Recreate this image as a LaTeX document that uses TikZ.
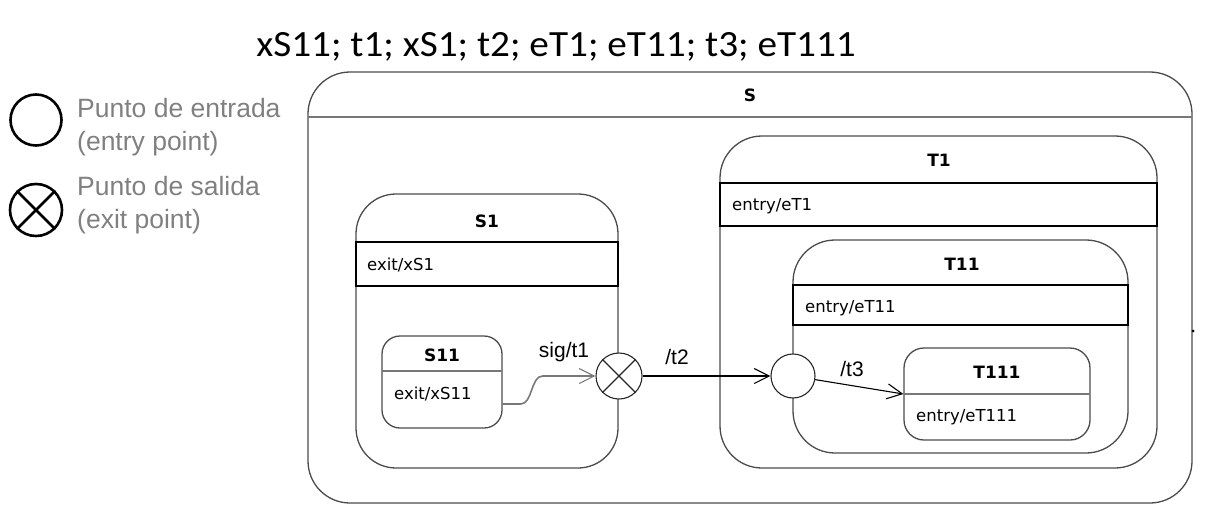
\documentclass[tikz,border=0pt]{standalone}
\usepackage{fontspec}
\setmainfont{DejaVu Sans}
\newfontfamily\titlefont[FakeStretch=1.06]{Carlito}
\newfontfamily\legfont{Liberation Sans}
\newfontfamily\arialfont{Liberation Sans}
\usetikzlibrary{arrows.meta}
\definecolor{leggray}{RGB}{128,128,128}
\definecolor{edgec}{RGB}{75,75,75}
\definecolor{sepc}{RGB}{120,120,120}
\tikzset{
  statebox/.style={draw=edgec, line width=1.3pt, rounded corners=#1, inner sep=0pt},
  comp/.style={draw=black, line width=1.1pt, inner sep=0pt},
  sepline/.style={draw=sepc, line width=1.4pt},
  sname/.style={font=\fontsize{17}{18}\selectfont\bfseries, inner sep=0pt},
  stext/.style={font=\fontsize{16.5}{18}\selectfont, anchor=west, inner sep=0pt},
  tlabel/.style={font=\arialfont\fontsize{21}{22}\selectfont, inner sep=0pt},
  legtext/.style={font=\legfont\fontsize{26.5}{33}\selectfont, text=leggray, anchor=west, inner sep=0pt, align=left},
  pseudo/.style={circle, draw=black!85, fill=white, line width=1.1pt, inner sep=0pt},
  arr/.style={-{Straight Barb[length=15pt,width=15pt,line width=1.1pt]}, line width=1.1pt},
}
\begin{document}
\begin{tikzpicture}[x=1pt,y=-1pt]
\useasboundingbox (0,0) rectangle (1222,511);

% title
\node[font=\titlefont\fontsize{37}{40}\selectfont, inner sep=0pt] (title) at (556,47) {xS11; t1; xS1; t2; eT1; eT11; t3; eT111};

% legend
\node[circle, draw=black, line width=2.6pt, minimum size=51pt, inner sep=0pt] (lentry) at (36,120) {};
\node[circle, draw=black, line width=2.6pt, minimum size=52pt, inner sep=0pt] (lexit) at (36,210) {};
\draw[line width=2.6pt] (lexit.45) -- (lexit.225) (lexit.135) -- (lexit.315);
\node[legtext] (lentrytxt) at (77,127) {Punto de entrada\\(entry point)};
\node[legtext] (lexittxt) at (77,205) {Punto de salida\\(exit point)};

% S
\node[statebox=42pt, minimum width=884pt, minimum height=431pt] (S) at (750,287.5) {};
\node[sname] (Sname) at (750,95) {S};
\coordinate (Ssepl) at (308,117);
\coordinate (Ssepr) at (1192,117);
\draw[sepline] (Ssepl) -- (Ssepr);
\fill[black] (1193,331) circle (1.5pt);

% S1
\node[statebox=40pt, minimum width=262pt, minimum height=274pt] (S1) at (487,331) {};
\node[sname] (S1name) at (487,221) {S1};
\node[comp, minimum width=262pt, minimum height=44pt] (S1c) at (487,264) {};
\node[stext] (S1t) at (367,265) {exit/xS1};

% S11
\node[statebox=18pt, minimum width=120pt, minimum height=92pt] (S11) at (442,382) {};
\node[sname] (S11name) at (442,355) {S11};
\coordinate (S11sl) at (382,371);
\coordinate (S11sr) at (502,371);
\draw[sepline] (S11sl) -- (S11sr);
\node[stext] (S11t) at (394,394) {exit/xS11};

% T1
\node[statebox=42pt, minimum width=437pt, minimum height=332pt] (T1) at (938.5,302) {};
\node[sname] (T1name) at (939,160) {T1};
\node[comp, minimum width=437pt, minimum height=43pt] (T1c) at (938.5,204.5) {};
\node[stext] (T1t) at (732,206) {entry/eT1};

% T11
\node[statebox=42pt, minimum width=335pt, minimum height=213pt] (T11) at (960.5,346.5) {};
\node[sname] (T11name) at (962,264) {T11};
\node[comp, minimum width=335pt, minimum height=40pt] (T11c) at (960.5,305) {};
\node[stext] (T11t) at (805,308) {entry/eT11};

% T111
\node[statebox=20pt, minimum width=186pt, minimum height=92pt] (T111) at (997,394) {};
\node[sname] (T111name) at (997,372) {T111};
\coordinate (T111sl) at (904,394);
\coordinate (T111sr) at (1090,394);
\draw[sepline] (T111sl) -- (T111sr);
\node[stext] (T111t) at (916,417) {entry/eT111};

% pseudo states
\node[pseudo, minimum size=46pt] (X) at (619,376) {};
\draw[line width=1.1pt, black!85] (X.45) -- (X.225) (X.135) -- (X.315);
\node[pseudo, minimum size=44pt] (E) at (793,376) {};

% transitions
\draw[arr, draw=sepc, line width=1.6pt] ([yshift=-22pt]S11.east) -- ++(18,0)
   .. controls +(12,0) and +(-12,0) .. ++(22,-28) -- (X.west);
\node[tlabel] (l1) at (564,352) {sig/t1};
\draw[arr] (X) -- (E);
\node[tlabel] (l2) at (677,357) {/t2};
\draw[arr] (E) -- (T111.west);
\node[tlabel] (l3) at (852,369) {/t3};
\end{tikzpicture}
\end{document}
